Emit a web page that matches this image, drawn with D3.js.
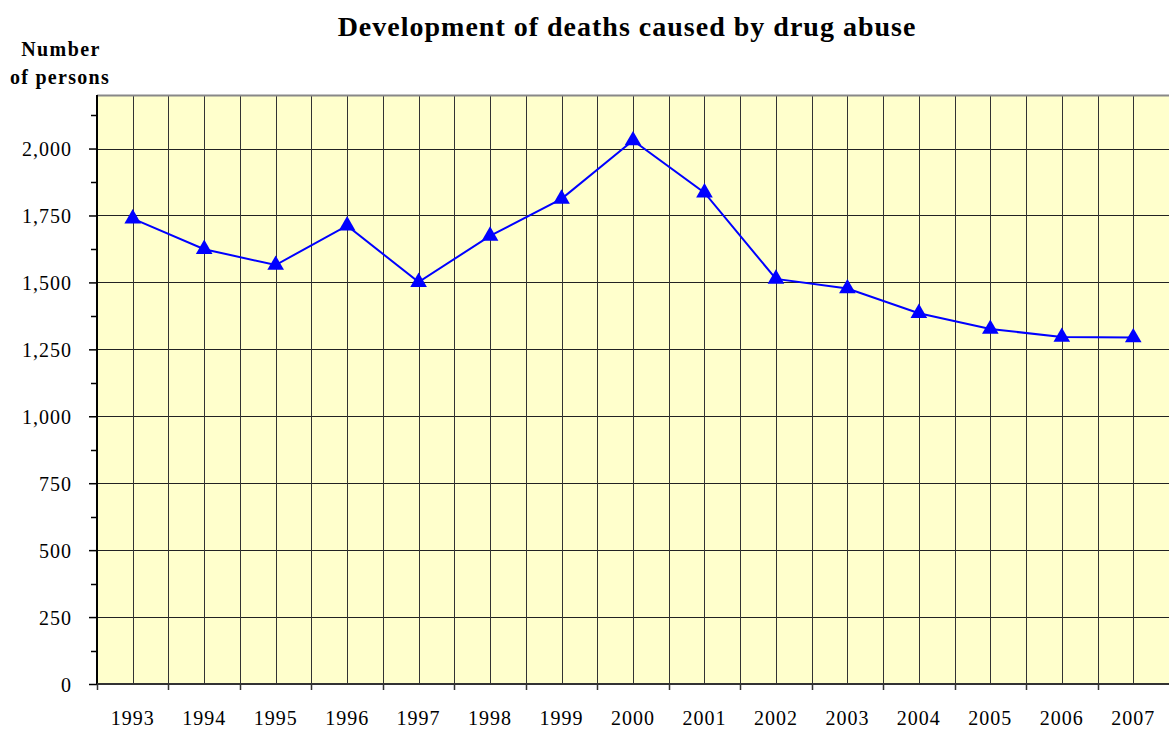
<!DOCTYPE html>
<html>
<head>
<meta charset="utf-8">
<script src="https://cdn.jsdelivr.net/npm/d3@7"></script>
<style>
  body { margin: 0; background: #fff; }
  text { font-family: "Liberation Serif", "Times New Roman", serif; fill: #000; }
</style>
</head>
<body>
<svg id="chart" width="1169" height="731"></svg>
<script>
'use strict';

const years = ['1993', '1994', '1995', '1996', '1997', '1998', '1999', '2000',
  '2001', '2002', '2003', '2004', '2005', '2006', '2007'];
const deaths = [1738, 1624, 1565, 1712, 1501, 1674, 1812, 2030,
  1835, 1513, 1477, 1385, 1326, 1296, 1294];
const yTicks = [0, 250, 500, 750, 1000, 1250, 1500, 1750, 2000];
const yMinor = [125, 375, 625, 875, 1125, 1375, 1625, 1875, 2125];

const margin = { top: 95, right: 0, bottom: 47, left: 97 };
const width = 1169 - margin.left - margin.right;
const height = 731 - margin.top - margin.bottom;

let svg = d3.select('#chart');
let g = svg.append('g').attr('transform', `translate(${margin.left},${margin.top})`);

let x = d3.scaleBand().domain(years).range([0, width]).padding(0);
let y = d3.scaleLinear().domain([0, 2200]).range([height, 0]);

// plot background
g.append('rect')
  .attr('width', width).attr('height', height)
  .attr('fill', '#ffffcc');

// horizontal gridlines
g.selectAll('.hgrid').data(yTicks.slice(1))
  .enter().append('line')
    .attr('x1', 0).attr('x2', width)
    .attr('y1', d => Math.round(y(d)) + 0.5)
    .attr('y2', d => Math.round(y(d)) + 0.5)
    .attr('stroke', '#222').attr('stroke-width', 1);

// vertical gridlines at category centres and boundaries
let vlines = [];
years.forEach(function(yr, i) {
  vlines.push(x(yr) + x.bandwidth() / 2);
  if (i > 0) vlines.push(x(yr));
});
g.selectAll('.vgrid').data(vlines)
  .enter().append('line')
    .attr('x1', d => Math.round(d) + 0.5).attr('x2', d => Math.round(d) + 0.5)
    .attr('y1', 0).attr('y2', height)
    .attr('stroke', '#333').attr('stroke-width', 1);

// top border
g.append('line')
  .attr('x1', 0).attr('x2', width).attr('y1', 0.5).attr('y2', 0.5)
  .attr('stroke', '#888').attr('stroke-width', 2);

// y axis
let yAxis = d3.axisLeft(y)
  .tickValues(yTicks)
  .tickSize(8)
  .tickPadding(17)
  .tickFormat(d3.format(','));
let yg = g.append('g').call(yAxis)
  .attr('font-family', '"Liberation Serif", "Times New Roman", serif')
  .attr('font-size', 20);
yg.select('.domain').attr('stroke', '#000').attr('stroke-width', 2)
  .attr('d', `M0,0V${height}`);
yg.selectAll('.tick line').attr('stroke', '#000').attr('stroke-width', 1.5);
yg.selectAll('.tick text').style('letter-spacing', '1px').attr('dy', '0.35em');

g.selectAll('.yminor').data(yMinor)
  .enter().append('line')
    .attr('x1', -6).attr('x2', 0)
    .attr('y1', d => Math.round(y(d)) + 0.5)
    .attr('y2', d => Math.round(y(d)) + 0.5)
    .attr('stroke', '#000').attr('stroke-width', 1.5);

// x axis
let xg = g.append('g').attr('transform', `translate(0,${height})`);
xg.append('line')
  .attr('x1', 0).attr('x2', width).attr('y1', 0).attr('y2', 0)
  .attr('stroke', '#333').attr('stroke-width', 2);
xg.selectAll('.xtick').data(years)
  .enter().append('line')
    .attr('x1', d => Math.round(x(d)) + 0.5).attr('x2', d => Math.round(x(d)) + 0.5)
    .attr('y1', 0).attr('y2', 6)
    .attr('stroke', '#333').attr('stroke-width', 1.5);
xg.selectAll('.xlabel').data(years)
  .enter().append('text')
    .attr('x', d => x(d) + x.bandwidth() / 2)
    .attr('y', 41)
    .attr('text-anchor', 'middle')
    .style('font-size', '20px')
    .style('letter-spacing', '1px')
    .text(d => d);

// series line
let line = d3.line()
  .x((d, i) => x(years[i]) + x.bandwidth() / 2)
  .y(d => y(d));
g.append('path')
  .datum(deaths)
  .attr('d', line)
  .attr('fill', 'none')
  .attr('stroke', '#0000ff')
  .attr('stroke-width', 2);

let tri = d3.symbol().type(d3.symbolTriangle).size(120);
g.selectAll('.marker').data(deaths)
  .enter().append('path')
    .attr('d', tri)
    .attr('transform', (d, i) => `translate(${x(years[i]) + x.bandwidth() / 2},${y(d)})`)
    .attr('fill', '#0000ff');

// titles
svg.append('text')
  .attr('x', 627).attr('y', 36)
  .attr('text-anchor', 'middle')
  .style('font-size', '28px').style('font-weight', 'bold')
  .style('letter-spacing', '1px')
  .text('Development of deaths caused by drug abuse');
svg.append('text')
  .attr('x', 61).attr('y', 56)
  .attr('text-anchor', 'middle')
  .style('font-size', '20px').style('font-weight', 'bold')
  .style('letter-spacing', '1.4px')
  .text('Number');
svg.append('text')
  .attr('x', 60).attr('y', 84)
  .attr('text-anchor', 'middle')
  .style('font-size', '20px').style('font-weight', 'bold')
  .style('letter-spacing', '1.3px')
  .text('of persons');
</script>
</body>
</html>
